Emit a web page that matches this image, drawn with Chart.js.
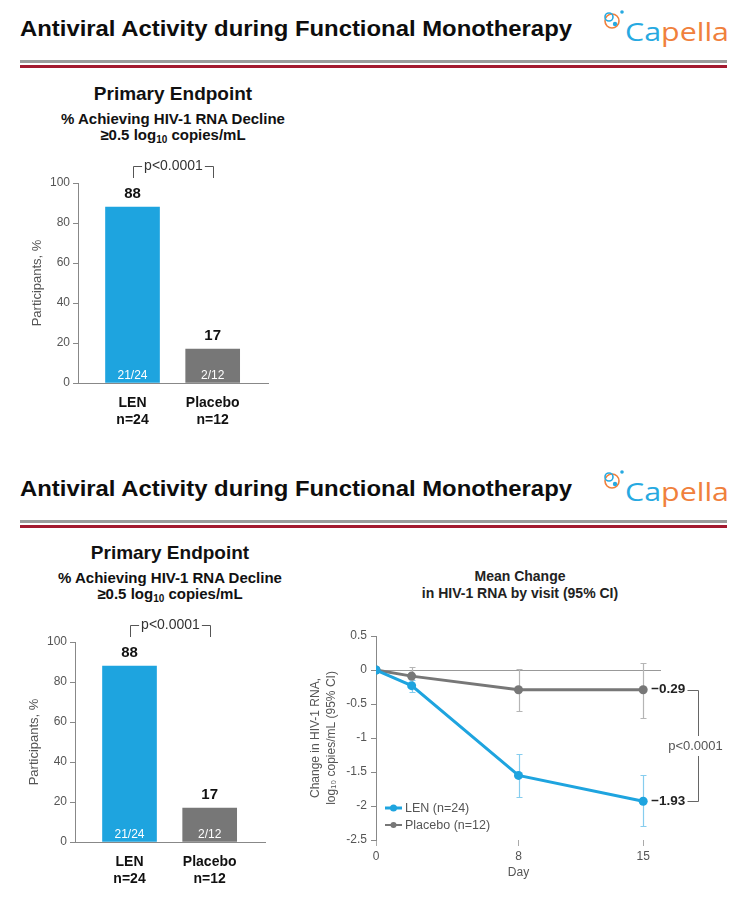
<!DOCTYPE html>
<html>
<head>
<meta charset="utf-8">
<title>Antiviral Activity during Functional Monotherapy</title>
<script src="https://cdn.jsdelivr.net/npm/chart.js@4.4.1/dist/chart.umd.min.js"></script>
<style>
  html, body { margin: 0; padding: 0; background: #fff; }
  body { position: relative; width: 745px; height: 899px; overflow: hidden;
         font-family: "Liberation Sans", Arial, sans-serif; color: #111; }
  .abs { position: absolute; white-space: nowrap; }
  .slide-title { font-size: 22px; font-weight: bold; line-height: 26px; transform-origin: 0 50%; color: #0d0d0d; }
  .rule-gray { background: #9b9b9b; height: 3px; width: 707px; left: 20px; }
  .rule-red { background: #a3192f; height: 3px; width: 707px; left: 20px; }
  .logo-text { font-family: "Open Sans", sans-serif; font-size: 26px; line-height: 30px; transform-origin: 0 50%; }
  .logo-text .b { color: #27a9e1; }
  .logo-text .o { color: #f0803c; }
  .heading { text-align: center; font-weight: bold; width: 320px; color: #111; }
  .h-big { font-size: 19px; line-height: 22px; }
  .h-mid { font-size: 15px; line-height: 17px; }
  .h-line { font-size: 14px; line-height: 17px; width: 300px; color: #222; }
  sub { font-size: 10px; line-height: 0; vertical-align: -3px; }
  canvas { position: absolute; }
</style>
</head>
<body>

<!-- slide 1 header -->
<div class="abs slide-title" style="left:20px;top:16px">Antiviral Activity during Functional Monotherapy</div>
<svg class="abs" style="left:601px;top:8px" width="26" height="24" viewBox="0 0 26 24">
  <circle cx="11" cy="13" r="7" fill="none" stroke="#f0803c" stroke-width="1.6"/>
  <circle cx="8" cy="9" r="4" fill="none" stroke="#27a9e1" stroke-width="1.6"/>
  <circle cx="21" cy="4" r="1.8" fill="#27a9e1"/>
  <circle cx="14" cy="16" r="2.2" fill="#27a9e1"/>
</svg>
<div class="abs logo-text" style="left:625px;top:16px"><span class="b">Ca</span><span class="o">pella</span></div>
<div class="abs rule-gray" style="top:60px"></div>
<div class="abs rule-red" style="top:65px"></div>

<div class="abs heading h-big" style="left:13px;top:83px">Primary Endpoint</div>
<div class="abs heading h-mid" style="left:13px;top:110px">% Achieving HIV-1 RNA Decline</div>
<div class="abs heading h-mid" style="left:13px;top:126px">≥0.5 log<sub>10</sub> copies/mL</div>
<canvas id="barTop" width="290" height="280" style="left:0;top:150px"></canvas>

<!-- slide 2 header -->
<div class="abs slide-title" style="left:20px;top:476px">Antiviral Activity during Functional Monotherapy</div>
<svg class="abs" style="left:601px;top:468px" width="26" height="24" viewBox="0 0 26 24">
  <circle cx="11" cy="13" r="7" fill="none" stroke="#f0803c" stroke-width="1.6"/>
  <circle cx="8" cy="9" r="4" fill="none" stroke="#27a9e1" stroke-width="1.6"/>
  <circle cx="21" cy="4" r="1.8" fill="#27a9e1"/>
  <circle cx="14" cy="16" r="2.2" fill="#27a9e1"/>
</svg>
<div class="abs logo-text" style="left:625px;top:476px"><span class="b">Ca</span><span class="o">pella</span></div>
<div class="abs rule-gray" style="top:520px"></div>
<div class="abs rule-red" style="top:525px"></div>

<div class="abs heading h-big" style="left:10px;top:542px">Primary Endpoint</div>
<div class="abs heading h-mid" style="left:10px;top:569px">% Achieving HIV-1 RNA Decline</div>
<div class="abs heading h-mid" style="left:10px;top:585px">≥0.5 log<sub>10</sub> copies/mL</div>
<canvas id="barBottom" width="290" height="280" style="left:-3px;top:609px"></canvas>

<div class="abs heading h-line" style="left:370px;top:568px">Mean Change</div>
<div class="abs heading h-line" style="left:370px;top:585px">in HIV-1 RNA by visit (95% CI)</div>
<canvas id="lineChart" width="445" height="290" style="left:300px;top:600px"></canvas>

<script>
// ---- data: primary endpoint bars ----
const barCategories = ["LEN", "Placebo"];
const barGroupN = ["n=24", "n=12"];
const barValues = [88, 17];
const barFractions = ["21/24", "2/12"];
const barPValue = "p<0.0001";

// ---- data: mean change in HIV-1 RNA by visit ----
const visitDays = [0, 2, 8, 15];
const dayTicks = [0, 8, 15];
const seriesLabels = ["LEN (n=24)", "Placebo (n=12)"];
const lenMean = [0, -0.23, -1.55, -1.93];
const lenLow = [0, -0.33, -1.87, -2.30];
const lenHigh = [0, -0.14, -1.23, -1.55];
const placeboMean = [0, -0.09, -0.29, -0.29];
const placeboLow = [0, -0.22, -0.60, -0.70];
const placeboHigh = [0, 0.05, 0.02, 0.11];
const linePValue = "p<0.0001";

const BLUE = "#1ea4df";
const GRAY = "#777777";
const FONT = "'Liberation Sans', Arial, sans-serif";

Chart.defaults.font.family = FONT;
Chart.defaults.color = "#555";

// fit the condensed slide titles and logo to their width in the picture
document.querySelectorAll(".slide-title").forEach(el => {
    const w = el.getBoundingClientRect().width;
    el.style.transform = "scaleX(" + (552 / w) + ")";
});
document.querySelectorAll(".logo-text").forEach(el => {
    const w = el.getBoundingClientRect().width;
    el.style.transform = "scaleX(" + (104 / w) + ")";
});

// value labels, n/N inside bars, p-value bracket
const barAnnotations = {
    id: "barAnnotations",
    afterDatasetsDraw(chart) {
        const { ctx, chartArea } = chart;
        const bars = chart.getDatasetMeta(0).data;
        ctx.save();
        ctx.textAlign = "center";
        ctx.textBaseline = "middle";
        bars.forEach((el, i) => {
            ctx.fillStyle = "#111";
            ctx.font = "bold 15px " + FONT;
            ctx.fillText(String(barValues[i]), el.x, el.y - 13);
            ctx.fillStyle = "#fff";
            ctx.font = "12px " + FONT;
            ctx.fillText(barFractions[i], el.x, el.base - 7);
        });

        // bracket
        const x1 = Math.round(bars[0].x) + 0.5, x2 = Math.round(bars[1].x) + 0.5;
        const yTop = Math.round(chartArea.top - 17) + 0.5, yEnd = chartArea.top - 5;
        const mid = (x1 + x2) / 2;
        ctx.font = "14px " + FONT;
        const half = ctx.measureText(barPValue).width / 2 + 2;
        ctx.strokeStyle = "#555";
        ctx.lineWidth = 1;
        ctx.beginPath();
        ctx.moveTo(x1, yEnd); ctx.lineTo(x1, yTop); ctx.lineTo(mid - half, yTop);
        ctx.moveTo(mid + half, yTop); ctx.lineTo(x2, yTop); ctx.lineTo(x2, yEnd);
        ctx.stroke();
        ctx.fillStyle = "#333";
        ctx.fillText(barPValue, mid, yTop);
        ctx.restore();
    }
};

function makeBarChart(id) {
    return new Chart(document.getElementById(id), {
        type: "bar",
        data: {
            datasets: [{
                data: barValues.map((v, i) => ({ x: i + 1, y: v })),
                backgroundColor: [BLUE, GRAY],
                barThickness: 54
            }]
        },
        options: {
            responsive: false,
            animation: false,
            layout: { padding: { left: 26, top: 33, right: 22, bottom: 2 } },
            plugins: { legend: { display: false }, tooltip: { enabled: false } },
            scales: {
                x: {
                    type: "linear",
                    offset: false,
                    min: 0.32,
                    max: 2.69,
                    afterBuildTicks: s => { s.ticks = barCategories.map((c, i) => ({ value: i + 1 })); },
                    afterFit: s => { s.height = 45; },
                    ticks: {
                        callback: v => [barCategories[v - 1], barGroupN[v - 1]],
                        font: { size: 14, weight: "bold" },
                        color: "#111",
                        padding: 4,
                        autoSkip: false,
                        maxRotation: 0
                    },
                    grid: { display: false, offset: false },
                    border: { color: "#888" }
                },
                y: {
                    min: 0,
                    max: 100,
                    afterFit: s => { s.width = 52; },
                    ticks: { stepSize: 20, font: { size: 12 }, color: "#555", padding: 3 },
                    grid: { drawOnChartArea: false, drawTicks: true, tickLength: 5, color: "#888" },
                    border: { color: "#888" },
                    title: {
                        display: true,
                        text: "Participants, %",
                        font: { size: 13 },
                        color: "#555",
                        padding: { top: 4, bottom: 0 }
                    }
                }
            }
        },
        plugins: [barAnnotations]
    });
}

makeBarChart("barTop");
makeBarChart("barBottom");

// 95% CI whiskers behind the lines
const errorBars = {
    id: "errorBars",
    beforeDatasetsDraw(chart) {
        const { ctx, scales: { x, y } } = chart;
        ctx.save();
        ctx.lineWidth = 1.2;
        chart.data.datasets.forEach(ds => {
            ctx.strokeStyle = ds.ciColor;
            ds.data.forEach((p, i) => {
                if (ds.ciLow[i] === ds.ciHigh[i]) return;
                const px = Math.round(x.getPixelForValue(p.x)) + 0.5;
                const y1 = Math.round(y.getPixelForValue(ds.ciLow[i])) + 0.5;
                const y2 = Math.round(y.getPixelForValue(ds.ciHigh[i])) + 0.5;
                ctx.beginPath();
                ctx.moveTo(px, y1); ctx.lineTo(px, y2);
                ctx.moveTo(px - 3, y1); ctx.lineTo(px + 3, y1);
                ctx.moveTo(px - 3, y2); ctx.lineTo(px + 3, y2);
                ctx.stroke();
            });
        });
        ctx.restore();
    }
};

// last-visit values and the p-value bracket on the right
const endLabels = {
    id: "endLabels",
    afterDatasetsDraw(chart) {
        const { ctx } = chart;
        const ends = chart.data.datasets.map((ds, i) => {
            const pts = chart.getDatasetMeta(i).data;
            return { el: pts[pts.length - 1], v: ds.data[ds.data.length - 1].y };
        });
        ctx.save();
        ctx.textBaseline = "middle";
        ctx.textAlign = "left";
        ctx.fillStyle = "#222";
        ctx.font = "bold 13.5px " + FONT;
        ends.forEach(e => {
            const txt = (e.v < 0 ? "\u2212" : "") + Math.abs(e.v).toFixed(2);
            ctx.fillText(txt, e.el.x + 8, e.el.y);
        });

        const xa = Math.round(ends[0].el.x + 44) + 0.5;
        const xb = Math.round(ends[0].el.x + 55) + 0.5;
        const ya = Math.round(Math.min(ends[0].el.y, ends[1].el.y)) + 0.5;
        const yb = Math.round(Math.max(ends[0].el.y, ends[1].el.y)) + 0.5;
        const ym = (ya + yb) / 2;
        ctx.strokeStyle = "#666";
        ctx.lineWidth = 1;
        ctx.beginPath();
        ctx.moveTo(xa, ya); ctx.lineTo(xb, ya); ctx.lineTo(xb, ym - 10);
        ctx.moveTo(xb, ym + 10); ctx.lineTo(xb, yb); ctx.lineTo(xa, yb);
        ctx.stroke();
        ctx.textAlign = "center";
        ctx.fillStyle = "#555";
        ctx.font = "13px " + FONT;
        ctx.fillText(linePValue, xb - 3, ym);
        ctx.restore();
    }
};

// legend drawn inside the lower-left corner of the plot
const insideLegend = {
    id: "insideLegend",
    afterDraw(chart) {
        const { ctx, chartArea } = chart;
        ctx.save();
        ctx.textBaseline = "middle";
        ctx.textAlign = "left";
        ctx.font = "12.5px " + FONT;
        chart.data.datasets.forEach((ds, i) => {
            const x0 = chartArea.left + 9;
            const yy = chartArea.bottom - 32 + i * 17;
            ctx.strokeStyle = ds.borderColor;
            ctx.fillStyle = ds.borderColor;
            ctx.lineWidth = i === 0 ? 3 : 2;
            ctx.beginPath();
            ctx.moveTo(x0, yy); ctx.lineTo(x0 + 17, yy);
            ctx.stroke();
            ctx.beginPath();
            ctx.arc(x0 + 8.5, yy, i === 0 ? 3.5 : 3, 0, Math.PI * 2);
            ctx.fill();
            ctx.fillStyle = "#555";
            ctx.fillText(ds.label, x0 + 20, yy + 0.5);
        });
        ctx.restore();
    }
};

new Chart(document.getElementById("lineChart"), {
    type: "line",
    data: {
        datasets: [
            {
                label: seriesLabels[0],
                data: visitDays.map((d, i) => ({ x: d, y: lenMean[i] })),
                ciLow: lenLow,
                ciHigh: lenHigh,
                ciColor: "#86cdee",
                borderColor: BLUE,
                backgroundColor: BLUE,
                pointBackgroundColor: BLUE,
                pointBorderWidth: 0,
                pointRadius: 4.5,
                borderWidth: 3,
                tension: 0
            },
            {
                label: seriesLabels[1],
                data: visitDays.map((d, i) => ({ x: d, y: placeboMean[i] })),
                ciLow: placeboLow,
                ciHigh: placeboHigh,
                ciColor: "#b5b5b5",
                borderColor: GRAY,
                backgroundColor: GRAY,
                pointBackgroundColor: GRAY,
                pointBorderWidth: 0,
                pointRadius: 4.5,
                borderWidth: 3,
                tension: 0
            }
        ]
    },
    options: {
        responsive: false,
        animation: false,
        layout: { padding: { left: 4, top: 36, right: 84, bottom: 6 } },
        plugins: { legend: { display: false }, tooltip: { enabled: false } },
        scales: {
            x: {
                type: "linear",
                min: 0,
                max: 16,
                afterBuildTicks: s => { s.ticks = dayTicks.map(v => ({ value: v })); },
                afterFit: s => { s.height = 44; },
                ticks: { font: { size: 12 }, color: "#555", padding: 3, autoSkip: false, maxRotation: 0 },
                grid: { drawOnChartArea: false, drawTicks: true, tickLength: 6, color: "#aaa" },
                border: { display: false },
                title: {
                    display: true,
                    text: "Day",
                    font: { size: 12 },
                    color: "#555",
                    padding: { top: 0, bottom: 4 }
                }
            },
            y: {
                min: -2.5,
                max: 0.5,
                afterFit: s => { s.width = 72; },
                ticks: { stepSize: 0.5, callback: v => String(v), font: { size: 12 }, color: "#555", padding: 4 },
                grid: {
                    color: c => (c.tick && c.tick.value === 0 ? "#999" : "rgba(0,0,0,0)"),
                    tickColor: "#888",
                    tickLength: 5
                },
                border: { color: "#888" },
                title: {
                    display: true,
                    text: ["Change in HIV-1 RNA,", "log\u2081\u2080 copies/mL (95% CI)"],
                    font: { size: 12, lineHeight: 1.333 },
                    color: "#555",
                    padding: { top: 4, bottom: 0 }
                }
            }
        }
    },
    plugins: [errorBars, endLabels, insideLegend]
});
</script>
</body>
</html>
